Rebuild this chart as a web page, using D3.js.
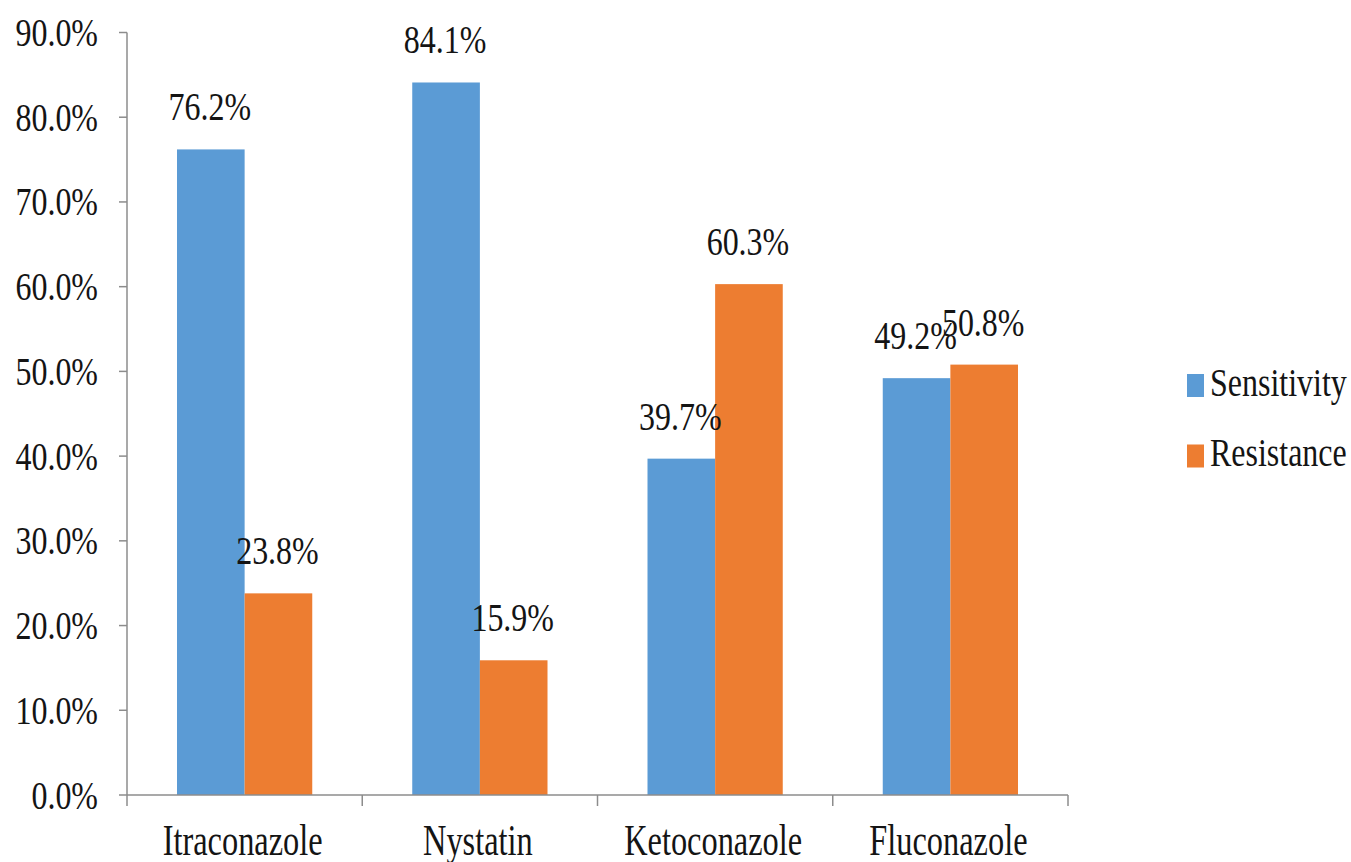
<!doctype html>
<html lang="en">
<head>
  <meta charset="utf-8">
  <style>
    body { margin: 0; background-color: white; }
    svg { display: block; background-color: white; }
    text { font-family: "Liberation Serif", "Times New Roman", serif; fill: #141414; }
    .axis line { stroke: #8c8c8c; stroke-width: 1.5px; }
  </style>
</head>
<body>
<script src="https://d3js.org/d3.v7.min.js"></script>
<script>
var width = 1351,
    height = 862;

// data
var drugs = ["Itraconazole", "Nystatin", "Ketoconazole", "Fluconazole"];
var seriesNames = ["Sensitivity", "Resistance"];
var sensitivity = [76.2, 84.1, 39.7, 49.2];
var resistance = [23.8, 15.9, 60.3, 50.8];
var yTicks = [0, 10, 20, 30, 40, 50, 60, 70, 80, 90];
var colors = ["#5B9BD5", "#ED7D31"];

// plot box (note: "top" is taken by window.top)
var plotLeft = 127, plotRight = 1068, plotTop = 32.5, plotBottom = 795;
var sx = 0.78; // text in the original is squeezed sideways

var svg = d3.select("body").append("svg")
  .attr("width", width)
  .attr("height", height);

var x0 = d3.scaleBand().domain(drugs).range([plotLeft, plotRight]);
var x1 = d3.scaleBand().domain(seriesNames).range([50, x0.bandwidth() - 50]);
var y = d3.scaleLinear().domain([0, 90]).range([plotBottom, plotTop]);
var color = d3.scaleOrdinal().domain(seriesNames).range(colors);

// helper: squeezed text
function sqText(g, x, yy, str, size, anchor, scale) {
  return g.append("text")
    .attr("transform", "translate(" + x + "," + yy + ") scale(" + (scale || sx) + ",1)")
    .attr("text-anchor", anchor)
    .style("font-size", size + "px")
    .text(str);
}

var rows = drugs.map(function(d, i) {
  return {drug: d, values: [
    {key: "Sensitivity", value: sensitivity[i]},
    {key: "Resistance", value: resistance[i]}
  ]};
});

// bars
var groups = svg.selectAll(".grp")
  .data(rows)
  .enter().append("g")
  .attr("class", "grp")
  .attr("transform", function(d) { return "translate(" + x0(d.drug) + ",0)"; });

groups.selectAll("rect")
  .data(function(d) { return d.values; })
  .enter().append("rect")
  .attr("x", function(d) { return x1(d.key); })
  .attr("width", x1.bandwidth())
  .attr("y", function(d) { return y(d.value); })
  .attr("height", function(d) { return plotBottom - y(d.value); })
  .attr("fill", function(d) { return color(d.key); });

// value labels
groups.each(function(d) {
  var g = d3.select(this);
  d.values.forEach(function(v) {
    sqText(g, x1(v.key) + x1.bandwidth() / 2 - 1, y(v.value) - 29, v.value.toFixed(1) + "%", 41, "middle");
  });
});

// y axis
var yAxis = svg.append("g").attr("class", "axis");
yAxis.append("line")
  .attr("x1", plotLeft).attr("x2", plotLeft)
  .attr("y1", y(90)).attr("y2", plotBottom);
yTicks.forEach(function(t) {
  yAxis.append("line")
    .attr("x1", plotLeft - 8).attr("x2", plotLeft)
    .attr("y1", y(t)).attr("y2", y(t));
  sqText(svg, 98, y(t) + 13.5, t.toFixed(1) + "%", 41, "end");
});

// x axis
var xAxis = svg.append("g").attr("class", "axis");
xAxis.append("line")
  .attr("x1", plotLeft).attr("x2", plotRight)
  .attr("y1", plotBottom).attr("y2", plotBottom);
drugs.concat([null]).forEach(function(d) {
  var xx = d ? x0(d) : plotRight;
  xAxis.append("line")
    .attr("x1", xx).attr("x2", xx)
    .attr("y1", plotBottom).attr("y2", plotBottom + 11);
});
drugs.forEach(function(d) {
  sqText(svg, x0(d) + x0.bandwidth() / 2 - 2, 855, d, 45, "middle", 0.72);
});

// legend
var legend = svg.append("g");
seriesNames.forEach(function(s, i) {
  var ly = 374 + i * 70.5;
  legend.append("rect")
    .attr("x", 1187).attr("y", ly)
    .attr("width", 17).attr("height", 23)
    .attr("fill", color(s));
  sqText(legend, 1210, ly + 21.5, s, 41, "start");
});
</script>
</body>
</html>
